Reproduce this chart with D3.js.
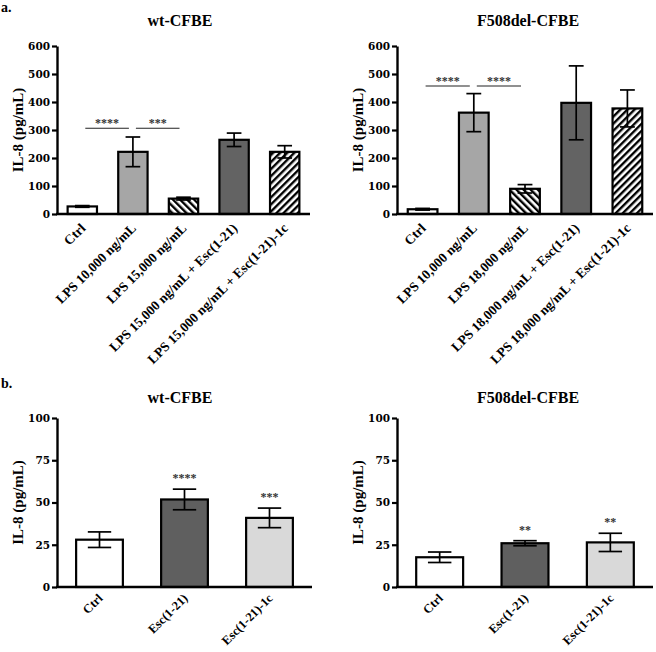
<!DOCTYPE html>
<html><head><meta charset="utf-8">
<script src="https://cdn.jsdelivr.net/npm/d3@7"></script>
<style>
body{margin:0;background:#fff;}
text{font-family:"Liberation Serif","Times New Roman",serif;}
</style></head>
<body>
<svg id="c" width="656" height="652"></svg>
<script>
// ---------- data ----------
const topWtCats = ["Ctrl","LPS 10,000 ng/mL","LPS 15,000 ng/mL","LPS 15,000 ng/mL + Esc(1-21)","LPS 15,000 ng/mL + Esc(1-21)-1c"];
const topWtVals = [27, 222, 55, 265, 222];
const topWtErr  = [3, 53, 5, 24, 22];
const topWtSig  = [{a:0,b:1,t:"****",v:306},{a:1,b:2,t:"***",v:306}];

const topMutCats = ["Ctrl","LPS 10,000 ng/mL","LPS 18,000 ng/mL","LPS 18,000 ng/mL + Esc(1-21)","LPS 18,000 ng/mL + Esc(1-21)-1c"];
const topMutVals = [17, 362, 90, 397, 377];
const topMutErr  = [3, 68, 15, 132, 66];
const topMutSig  = [{a:0,b:1,t:"****",v:457},{a:1,b:2,t:"****",v:457}];

const topTicks = [0,100,200,300,400,500,600];
const topFills = ["#ffffff","#a6a6a6","url(#hatchB)","#636363","url(#hatchF)"];

const botCats = ["Ctrl","Esc(1-21)","Esc(1-21)-1c"];
const botWtVals = [28, 51.8, 40.9];
const botWtErr  = [4.6, 6.1, 5.8];
const botWtStars = [null, "****", "***"];
const botMutVals = [17.6, 25.9, 26.4];
const botMutErr  = [3.1, 1.5, 5.4];
const botMutStars = [null, "**", "**"];
const botTicks = [0,25,50,75,100];
const botFills = ["#ffffff","#5f5f5f","#d9d9d9"];

// ---------- drawing ----------
const svg = d3.select("#c");
const defs = svg.append("defs");
function hatch(id, ang){
  const p = defs.append("pattern").attr("id",id).attr("patternUnits","userSpaceOnUse")
    .attr("width",5).attr("height",5).attr("patternTransform",`rotate(${ang})`);
  p.append("rect").attr("width",5).attr("height",5).attr("fill","#fff");
  p.append("line").attr("x1",1.2).attr("x2",1.2).attr("y1",0).attr("y2",5)
    .attr("stroke","#000").attr("stroke-width",2.4);
}
hatch("hatchB",-45);
hatch("hatchF",45);

svg.append("text").attr("x",1).attr("y",12).attr("font-weight","bold").attr("font-size",14).text("a.");
svg.append("text").attr("x",1).attr("y",388).attr("font-weight","bold").attr("font-size",14).text("b.");

function panel(o){
  const g = svg.append("g");
  const x = d3.scaleBand().domain(o.cats).range([o.x0,o.x1]).paddingInner(o.pad).paddingOuter(o.pad/2);
  const y = d3.scaleLinear().domain([0,o.max]).range([o.y0,o.y1]);
  const bw = x.bandwidth();

  // title
  g.append("text").attr("x",o.tx).attr("y",o.ty).attr("text-anchor","middle")
    .attr("font-weight","bold").attr("font-size",16).text(o.title);
  // y label
  g.append("text").attr("transform",`translate(${o.x0-34},${(o.y0+o.y1)/2}) rotate(-90)`)
    .attr("text-anchor","middle").attr("font-weight","bold").attr("font-size",15).text("IL-8 (pg/mL)");

  // bars
  g.selectAll("rect.bar").data(o.cats).enter().append("rect")
    .attr("x",d=>x(d)).attr("width",bw)
    .attr("y",(d,i)=>y(o.vals[i])).attr("height",(d,i)=>y(0)-y(o.vals[i]))
    .attr("fill",(d,i)=>o.fills[i]).attr("stroke","#000").attr("stroke-width",2.2);

  // error bars
  const cw = bw*0.5;
  o.cats.forEach((d,i)=>{
    const cx = x(d)+bw/2, hi=y(o.vals[i]+o.err[i]), lo=y(Math.max(0,o.vals[i]-o.err[i]));
    g.append("line").attr("x1",cx).attr("x2",cx).attr("y1",hi).attr("y2",lo).attr("stroke","#000").attr("stroke-width",1.7);
    [hi,lo].forEach(yy=>g.append("line").attr("x1",cx-cw/2).attr("x2",cx+cw/2).attr("y1",yy).attr("y2",yy)
      .attr("stroke","#000").attr("stroke-width",1.7));
  });

  // axes
  const ya = g.append("g").attr("transform",`translate(${o.x0},0)`)
    .call(d3.axisLeft(y).tickValues(o.ticks).tickSize(5).tickPadding(2).tickSizeOuter(0));
  ya.select(".domain").attr("stroke","#000").attr("stroke-width",2.4);
  ya.selectAll(".tick line").attr("stroke-width",2.2);
  ya.selectAll("text").attr("font-weight","bold").attr("font-size",10.5).attr("fill","#000")
    .style("font-family",'"DejaVu Serif",serif');
  g.append("line").attr("x1",o.x0-1).attr("x2",o.x1).attr("y1",o.y0).attr("y2",o.y0)
    .attr("stroke","#000").attr("stroke-width",2.4);

  // x labels
  g.selectAll("text.xl").data(o.cats).enter().append("text")
    .attr("transform",d=>`translate(${x(d)+bw/2+4},${o.y0+o.ldy}) rotate(-45)`)
    .attr("text-anchor","end").attr("font-weight","bold").attr("font-size",o.lfs).text(d=>d);

  // significance brackets
  (o.sig||[]).forEach(s=>{
    const xa = x(o.cats[s.a])+bw/2+3, xb = x(o.cats[s.b])+bw/2-4, yy=y(s.v);
    g.append("line").attr("x1",xa).attr("x2",xb).attr("y1",yy).attr("y2",yy).attr("stroke","#222").attr("stroke-width",1.1);
    g.append("text").attr("x",(xa+xb)/2).attr("y",yy-1).attr("text-anchor","middle")
      .attr("font-size",12).attr("font-weight","bold").attr("fill","#333").text(s.t);
  });
  (o.stars||[]).forEach((s,i)=>{
    if(!s) return;
    const cx = x(o.cats[i])+bw/2;
    g.append("text").attr("x",cx).attr("y",y(o.vals[i]+o.err[i])-7).attr("text-anchor","middle")
      .attr("font-size",12).attr("font-weight","bold").attr("fill","#333").text(s);
  });
}

panel({cats:topWtCats,vals:topWtVals,err:topWtErr,fills:topFills,sig:topWtSig,ticks:topTicks,max:600,
  x0:57,x1:310,y0:214,y1:46,pad:0.42,title:"wt-CFBE",tx:180,ty:26,lfs:13.5,ldy:15});
panel({cats:topMutCats,vals:topMutVals,err:topMutErr,fills:topFills,sig:topMutSig,ticks:topTicks,max:600,
  x0:397,x1:653,y0:214,y1:46,pad:0.42,title:"F508del-CFBE",tx:528,ty:26,lfs:13.5,ldy:15});
panel({cats:botCats,vals:botWtVals,err:botWtErr,fills:botFills,stars:botWtStars,ticks:botTicks,max:100,
  x0:57,x1:312,y0:587,y1:418,pad:0.45,title:"wt-CFBE",tx:180,ty:403,lfs:12.5,ldy:12});
panel({cats:botCats,vals:botMutVals,err:botMutErr,fills:botFills,stars:botMutStars,ticks:botTicks,max:100,
  x0:397,x1:653,y0:587,y1:418,pad:0.45,title:"F508del-CFBE",tx:528,ty:403,lfs:12.5,ldy:12});
</script>
</body></html>
